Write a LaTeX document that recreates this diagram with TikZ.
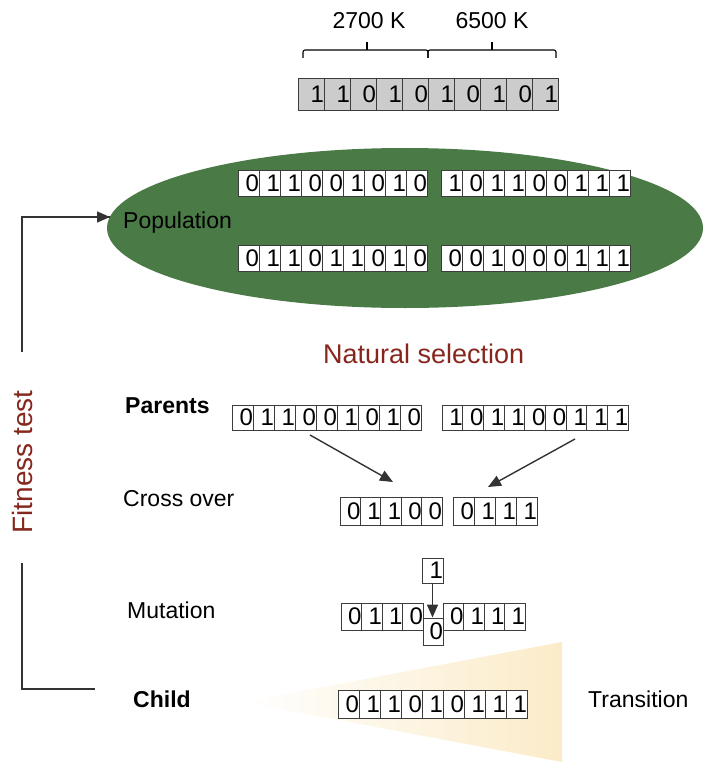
\documentclass[tikz,border=0pt]{standalone}
\usepackage{fontspec}
\setmainfont{Liberation Sans}
\usetikzlibrary{arrows.meta}

\definecolor{popgreen}{RGB}{74,122,70}
\definecolor{selred}{RGB}{135,38,28}
\definecolor{bargray}{RGB}{204,204,204}
\definecolor{cellline}{RGB}{60,60,60}
\definecolor{fade}{RGB}{251,235,200}

\tikzset{
    bit/.style 2 args={draw=cellline, line width=0.9pt, fill=white, inner sep=0pt,
        text width=#1, minimum height=#2, align=right, font=\fontsize{24}{24}\selectfont},
    lbl/.style={anchor=base west, inner sep=0pt, font=\fontsize{23}{23}\selectfont},
    redlbl/.style={inner sep=0pt, text=selred, font=\fontsize{27}{27}\selectfont},
    link/.style={draw=black!80, line width=1.4pt},
    tip/.style={-{Triangle[length=13pt,width=11pt]}},
}

\begin{document}
\begin{tikzpicture}[x=1pt, y=-1pt]
\useasboundingbox (0,0) rectangle (702,762);

% chromosome on top
\foreach \b [count=\i] in {1,1,0,1,0,1,0,1,0,1}
    \node[bit={26pt}{32pt}, fill=bargray] (top\i) at ({298+26*\i-13},94) {\b};

% braces
\draw[line width=1.1pt, rounded corners=2pt] (303,58) -- (303,50) -- (428,50) -- (428,58);
\draw[line width=1.1pt, rounded corners=2pt] (428,58) -- (428,50) -- (556,50) -- (556,58);
\draw[line width=1.1pt] (367,50) -- (367,42);
\draw[line width=1.1pt] (492,50) -- (492,42);
\node[lbl, anchor=base] (warm) at (369,29) {2700 K};
\node[lbl, anchor=base] (cold) at (492,29) {6500 K};

% population
\fill[popgreen] (405,228) ellipse [x radius=298, y radius=80];
\node[lbl] (pop) at (123,228) {Population};
\foreach \b [count=\i] in {0,1,1,0,0,1,0,1,0}
    \node[bit={21pt}{26pt}] (pa\i) at ({238+21*\i-10.5},183) {\b};
\foreach \b [count=\i] in {1,0,1,1,0,0,1,1,1}
    \node[bit={21pt}{26pt}] (pb\i) at ({441+21*\i-10.5},183) {\b};
\foreach \b [count=\i] in {0,1,1,0,1,1,0,1,0}
    \node[bit={21pt}{26pt}] (pc\i) at ({238+21*\i-10.5},258) {\b};
\foreach \b [count=\i] in {0,0,1,0,0,0,1,1,1}
    \node[bit={21pt}{26pt}] (pd\i) at ({441+21*\i-10.5},258) {\b};

% selection
\node[redlbl, anchor=base west] (sel) at (323,363) {Natural selection};

% parents
\node[lbl, font=\fontsize{23}{23}\selectfont\bfseries] (par) at (125,413) {Parents};
\foreach \b [count=\i] in {0,1,1,0,0,1,0,1,0}
    \node[bit={21pt}{25pt}] (ma\i) at ({232+21*\i-10.5},417.5) {\b};
\foreach \b [count=\i] in {1,0,1,1,0,0,1,1,1}
    \node[bit={20.7pt}{25pt}] (fa\i) at ({442+20.7*\i-10.35},417.5) {\b};

% cross over
\node[lbl] (cross) at (123,506) {Cross over};
\foreach \b [count=\i] in {0,1,1,0,0}
    \node[bit={20.4pt}{28pt}] (ca\i) at ({340+20.4*\i-10.2},511) {\b};
\foreach \b [count=\i] in {0,1,1,1}
    \node[bit={21pt}{28pt}] (cb\i) at ({453+21*\i-10.5},511) {\b};

\coordinate (ma out) at (310,435);
\coordinate (ca in) at (393,482);
\coordinate (fa out) at (575,439);
\coordinate (cb in) at (488,487);
\draw[link, tip] (ma out) -- (ca in);
\draw[link, tip] (fa out) -- (cb in);

% mutation
\node[lbl] (mut) at (127,618) {Mutation};
\node[bit={21pt}{25pt}] (mt) at (432.5,570.5) {1};
\foreach \b [count=\i] in {0,1,1,0}
    \node[bit={20.5pt}{27pt}] (na\i) at ({341+20.5*\i-10.25},616.5) {\b};
\node[bit={20pt}{27pt}] (mz) at (433,631.5) {0};
\foreach \b [count=\i] in {0,1,1,1}
    \node[bit={20.5pt}{27pt}] (nb\i) at ({443+20.5*\i-10.25},616.5) {\b};
\draw[link, tip] (mt.south) -- (mt.south |- mz.north);

% child
\shade[left color=white, right color=fade] (243,702) -- (562,642) -- (562,762) -- cycle;
\node[lbl, font=\fontsize{23}{23}\selectfont\bfseries] (child) at (133,707) {Child};
\foreach \b [count=\i] in {0,1,1,0,1,0,1,1,1}
    \node[bit={21pt}{28pt}] (ch\i) at ({338+21*\i-10.5},704) {\b};
\node[lbl] (trans) at (588,707) {Transition};

% fitness loop
\node[redlbl, rotate=90, font=\fontsize{28}{28}\selectfont] (fit) at (22,462) {Fitness test};
\coordinate (fit up) at (22,352);
\coordinate (fit down) at (22,563);
\coordinate (pop in) at (110,217);
\coordinate (child out) at (95,689);
\draw[link] (fit up) |- (pop in);
\draw[link, tip] (fit up |- pop in) -- (pop in);
\draw[link] (fit down) |- (child out);

\end{tikzpicture}
\end{document}
